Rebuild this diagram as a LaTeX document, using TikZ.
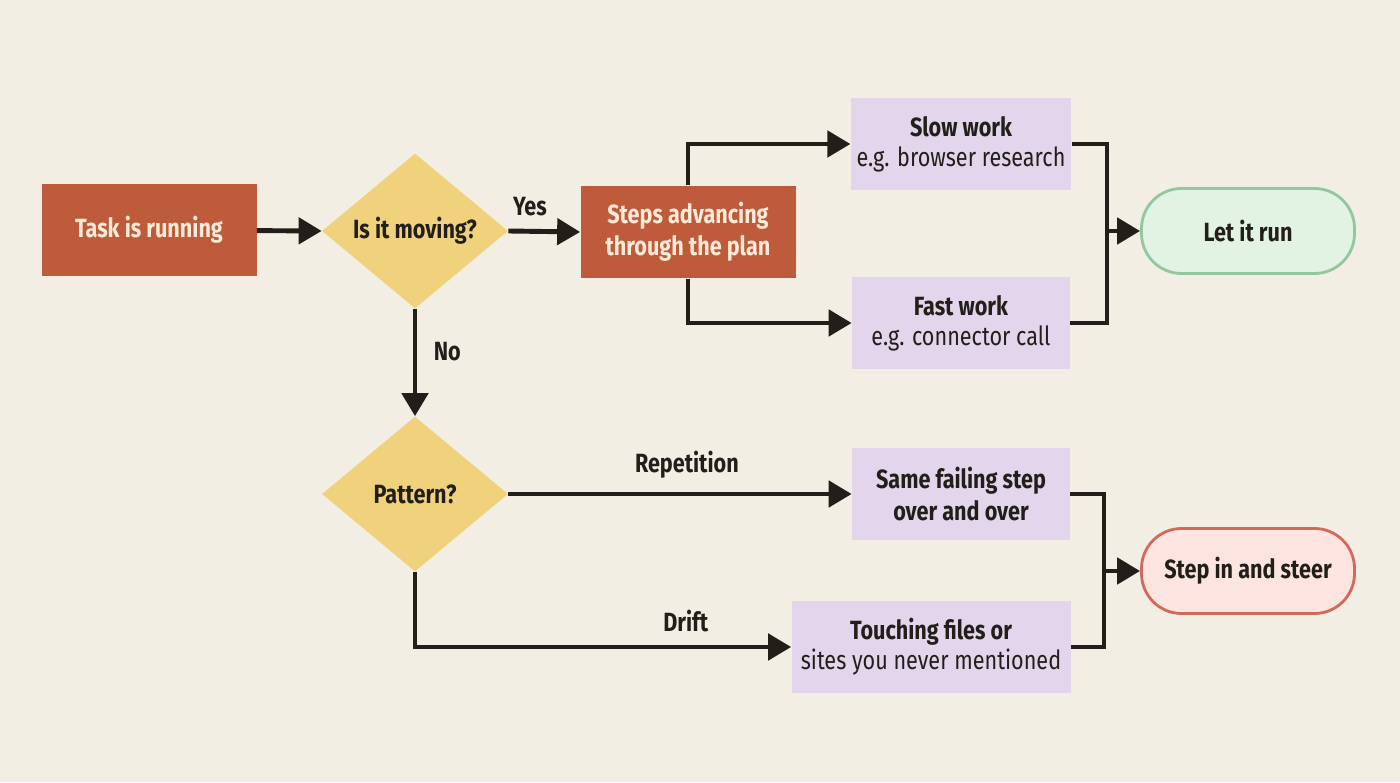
\documentclass[tikz,border=0pt]{standalone}
\usepackage{fontspec}
\setmainfont{Fira Sans}[FakeStretch=0.82]
\usetikzlibrary{shapes.geometric,arrows.meta}

\definecolor{bgcol}{HTML}{F2EEE4}
\definecolor{rustcol}{HTML}{BE5B3B}
\definecolor{rusttext}{HTML}{FCEBD8}
\definecolor{goldcol}{HTML}{F0D27C}
\definecolor{lilaccol}{HTML}{E3D6EC}
\definecolor{greenfill}{HTML}{E2F3E3}
\definecolor{greenline}{HTML}{93C7A0}
\definecolor{redfill}{HTML}{FCE5E0}
\definecolor{redline}{HTML}{D3695A}
\definecolor{inkcol}{HTML}{221F1A}

\tikzset{
  txt/.style={font=\fontsize{15}{18}\selectfont\bfseries, text=inkcol, align=center},
  rustbox/.style={txt, fill=rustcol, text=rusttext, minimum width=4.3cm, minimum height=1.85cm},
  query/.style={txt, diamond, fill=goldcol, inner sep=0pt, minimum width=3.72cm, minimum height=3.1cm},
  workbox/.style={txt, fill=lilaccol, minimum width=4.36cm, minimum height=1.85cm},
  endbox/.style={txt, rounded corners=0.8cm, line width=1.6pt, minimum width=4.26cm, minimum height=1.7cm},
  flow/.style={line width=2.8pt, draw=inkcol, -{Triangle[length=0.46cm, width=0.52cm]}},
  wire/.style={line width=2.8pt, draw=inkcol},
  lbl/.style={txt}
}

\newcommand{\sub}[1]{\\[-1pt]{\mdseries #1}}

\begin{document}
\begin{tikzpicture}

  % -- canvas --
  \fill[bgcol] (0,0) rectangle (28,15.64);

  % -- top branch --
  \node[rustbox] (task) at (2.98, 11.04) {Task is running};
  \node[query] (moving) at (8.30, 11.02) {Is it moving?};
  \node[rustbox] (steps) at (13.76, 11.00) {Steps advancing\\through the plan};
  \node[workbox] (slow) at (19.22, 12.76) {Slow work\sub{e.g. browser research}};
  \node[workbox] (fast) at (19.22, 9.18) {Fast work\sub{e.g. connector call}};
  \node[endbox, fill=greenfill, draw=greenline] (run) at (24.96, 11.02) {Let it run};

  % -- bottom branch --
  \node[query] (pattern) at (8.30, 5.76) {Pattern?};
  \node[workbox] (same) at (19.22, 5.76) {Same failing step\\over and over};
  \node[workbox, minimum width=5.58cm] (touch) at (18.62, 2.70) {Touching files or\sub{sites you never mentioned}};
  \node[endbox, fill=redfill, draw=redline] (steer) at (24.96, 4.22) {Step in and steer};

  % junction points
  \coordinate (jtop) at (22.14, 11.02);
  \coordinate (jbot) at (22.08, 4.22);

  % -- connectors --
  \draw[flow] (task) -- (moving.west);
  \draw[flow] (moving.east) -- node[lbl, above=4pt, pos=0.3] (yes) {Yes} (steps.west);
  \draw[flow] (steps.north) |- (slow.west);
  \draw[flow] (steps.south) |- (fast.west);
  \draw[wire] (slow.east) -| (jtop) |- (fast.east);
  \draw[flow] (jtop) -- (run.west);

  \draw[flow] (moving.south) -- node[lbl, right=6pt, pos=0.4] (no) {No} (pattern.north);
  \draw[flow] (pattern.east) -- node[lbl, above=4pt, pos=0.52] (rep) {Repetition} (same.west);
  \draw[flow] (pattern.south) |- node[lbl, above=4pt, pos=0.86] (drift) {Drift} (touch.west);
  \draw[wire] (same.east) -| (jbot) |- (touch.east);
  \draw[flow] (jbot) -- (steer.west);

\end{tikzpicture}
\end{document}
